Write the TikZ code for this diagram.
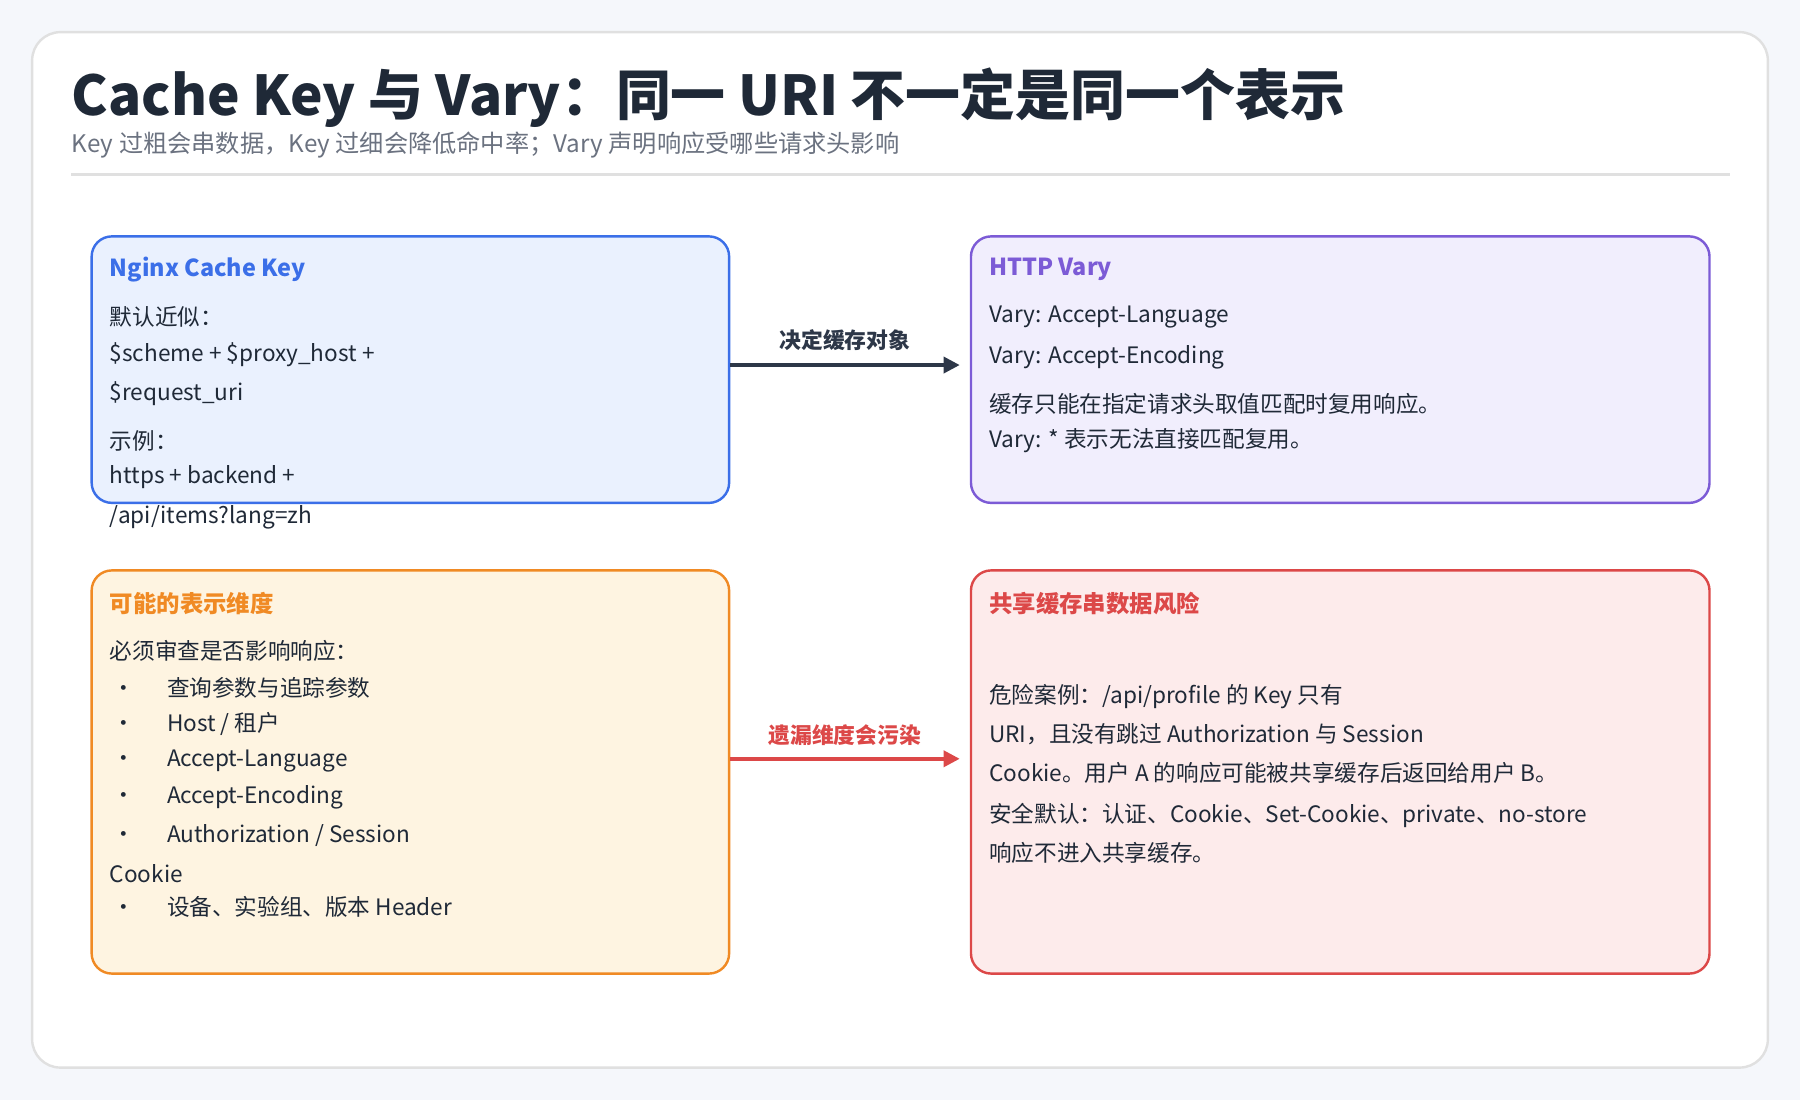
\documentclass[tikz,border=0pt]{standalone}
\usepackage{fontspec}
\setmainfont{Noto Sans CJK SC}
\usetikzlibrary{arrows.meta}
\definecolor{bg}{HTML}{F5F7FB}
\definecolor{ink}{HTML}{1F2937}
\definecolor{sub}{HTML}{6B7280}
\definecolor{bluB}{HTML}{3B6FE8}\definecolor{bluF}{HTML}{EAF1FE}
\definecolor{purB}{HTML}{7C5BD6}\definecolor{purF}{HTML}{F1EEFD}
\definecolor{orgB}{HTML}{F08A24}\definecolor{orgF}{HTML}{FEF4E1}
\definecolor{redB}{HTML}{DC4848}\definecolor{redF}{HTML}{FDEBEB}
\definecolor{arr}{HTML}{2D3748}
\begin{document}
\begin{tikzpicture}[x=0.01cm,y=-0.01cm,
 box/.style={draw,line width=0.6pt,rounded corners=5pt,inner sep=0},
 txt/.style={anchor=west,inner sep=0,font=\fontsize{5.6pt}{6pt}\selectfont,text=ink},
 ttl/.style={anchor=west,inner sep=0,font=\fontsize{5.8pt}{6pt}\selectfont\bfseries},
 lab/.style={inner sep=0,font=\fontsize{5.4pt}{6pt}\selectfont\bfseries}]
\useasboundingbox[fill=bg] (0,0) rectangle (1568,958);
\draw[fill=white,draw=black!12,line width=0.6pt,rounded corners=7pt] (28,28) rectangle (1540,930);
\node[anchor=west,inner sep=0,font=\fontsize{13.6pt}{14pt}\selectfont\bfseries,text=ink] (title) at (62,85) {Cache Key 与 Vary：同一 URI 不一定是同一个表示};
\node[anchor=west,inner sep=0,font=\fontsize{6pt}{7pt}\selectfont,text=sub] (subt) at (62,126) {Key 过粗会串数据，Key 过细会降低命中率；Vary 声明响应受哪些请求头影响};
\draw[black!12,line width=0.6pt] (62,152) -- (1507,152);
\node[box,draw=bluB,fill=bluF,minimum width=5.55cm,minimum height=2.32cm] (b1) at (357.5,322) {};
\node[box,draw=purB,fill=purF,minimum width=6.43cm,minimum height=2.32cm] (b2) at (1167.5,322) {};
\node[box,draw=orgB,fill=orgF,minimum width=5.55cm,minimum height=3.51cm] (b3) at (357.5,672.5) {};
\node[box,draw=redB,fill=redF,minimum width=6.43cm,minimum height=3.51cm] (b4) at (1167.5,672.5) {};
\node[ttl,text=bluB] (t1) at (95,235) {Nginx Cache Key};
\node[txt] (a1) at (95,276) {默认近似：};
\node[txt] (a2) at (95,309) {\$scheme + \$proxy\_host +};
\node[txt] (a3) at (95,343) {\$request\_uri};
\node[txt] (a4) at (95,384) {示例：};
\node[txt] (a5) at (95,416) {https + backend +};
\node[txt] (a6) at (95,451) {/api/items?lang=zh};
\node[ttl,text=purB] (t2) at (861,235) {HTTP Vary};
\node[txt] (c1) at (861,276) {Vary: Accept-Language};
\node[txt] (c2) at (861,311) {Vary: Accept-Encoding};
\node[txt] (c3) at (861,352) {缓存只能在指定请求头取值匹配时复用响应。};
\node[txt] (c4) at (861,384) {Vary: * 表示无法直接匹配复用。};
\node[ttl,text=orgB] (t3) at (95,526) {可能的表示维度};
\node[txt] (d1) at (95,567) {必须审查是否影响响应：};
\node[txt] (d2) at (97,599) {•\hspace{8pt}查询参数与追踪参数};
\node[txt] (d3) at (97,631) {•\hspace{8pt}Host / 租户};
\node[txt] (d4) at (97,663) {•\hspace{8pt}Accept-Language};
\node[txt] (d5) at (97,695) {•\hspace{8pt}Accept-Encoding};
\node[txt] (d6) at (97,728) {•\hspace{8pt}Authorization / Session};
\node[txt] (d7) at (95,761) {Cookie};
\node[txt] (d8) at (97,790) {•\hspace{8pt}设备、实验组、版本 Header};
\node[ttl,text=redB] (t4) at (861,526) {共享缓存串数据风险};
\node[txt] (e1) at (861,607) {危险案例：/api/profile 的 Key 只有};
\node[txt] (e2) at (861,640) {URI，且没有跳过 Authorization 与 Session};
\node[txt] (e3) at (861,673) {Cookie。用户 A 的响应可能被共享缓存后返回给用户 B。};
\node[txt] (e4) at (861,710) {安全默认：认证、Cookie、Set-Cookie、private、no-store};
\node[txt] (e5) at (861,743) {响应不进入共享缓存。};
\coordinate (p1) at (636,318); \coordinate (q1) at (836,318);
\coordinate (p2) at (636,661); \coordinate (q2) at (836,661);
\draw[arr,line width=0.85pt,-{Triangle[length=4pt,width=4pt]}] (p1) -- (q1);
\draw[redB,line width=0.85pt,-{Triangle[length=4pt,width=4pt]}] (p2) -- (q2);
\node[lab,text=arr] (l1) at (736,296) {决定缓存对象};
\node[lab,text=redB] (l2) at (736,640) {遗漏维度会污染};
\end{tikzpicture}
\end{document}
